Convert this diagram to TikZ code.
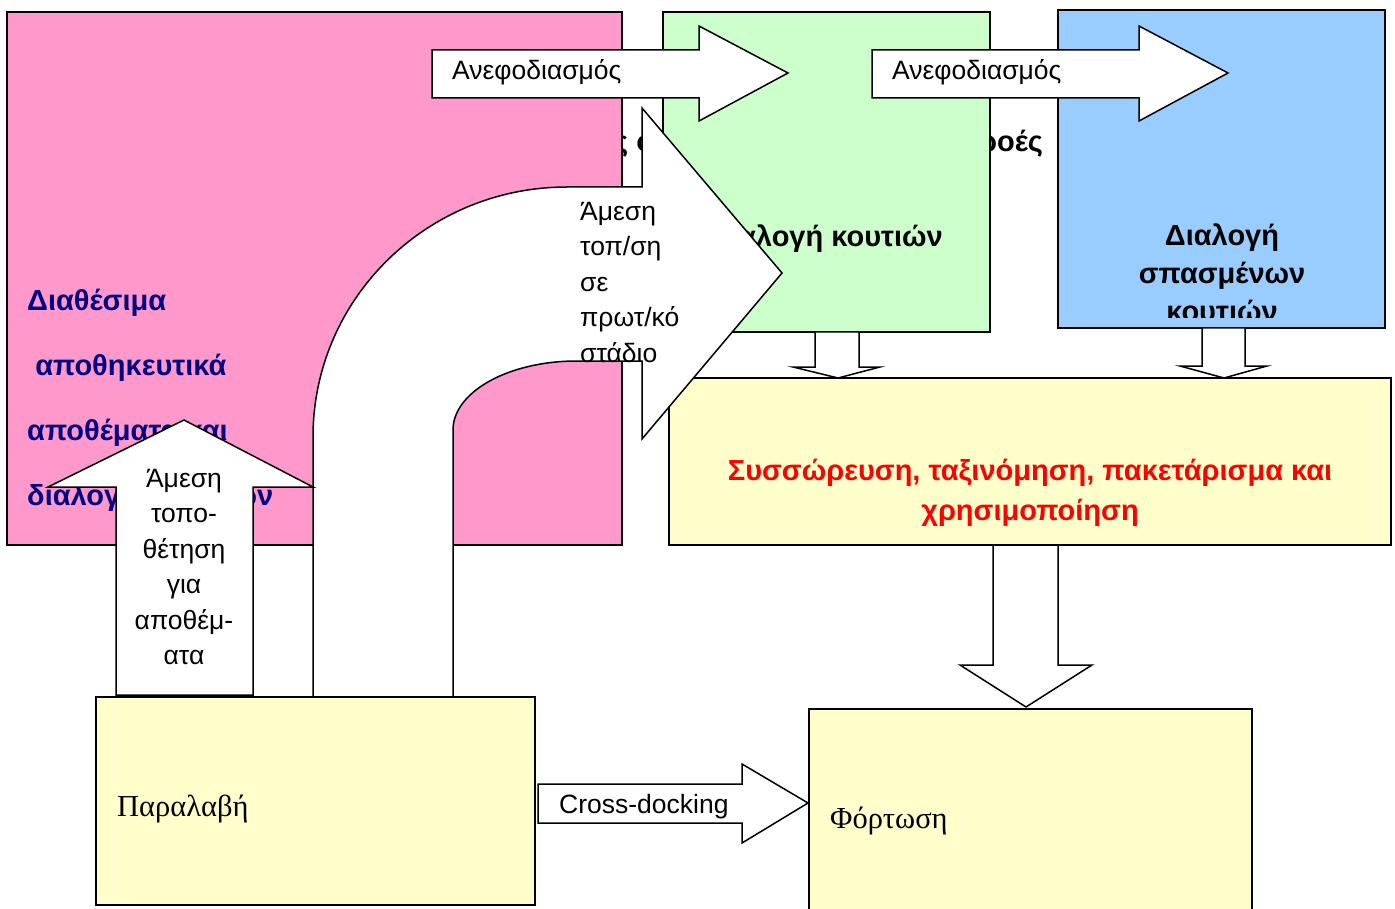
\documentclass[tikz,border=0pt]{standalone}
\usepackage{fontspec}
\setmainfont{Liberation Sans}
\newfontfamily\timesgr{Liberation Serif}

\definecolor{stockpink}{HTML}{FF99CC}
\definecolor{sortgreen}{HTML}{CCFFCC}
\definecolor{brokenblue}{HTML}{99CCFF}
\definecolor{paleyellow}{HTML}{FFFFCC}
\definecolor{navytext}{HTML}{000080}

\begin{document}
\begin{tikzpicture}[x=1pt,y=-1pt,
    box/.style={draw,line width=1.5pt,anchor=north west,inner sep=0pt,outer sep=0pt},
    blockarrow/.style={draw,fill=white,line width=1.5pt,line join=miter},
    plain/.style={font=\fontsize{26.5}{35.4}\selectfont,inner sep=0pt},
    heavy/.style={font=\fontsize{29}{38}\selectfont\bfseries,inner sep=0pt}]
  \useasboundingbox (0,0) rectangle (1395,909);
  % Text lying behind the boxes
  \node[heavy,anchor=base west] (hidA) at (613,152) {ς ο};
  \node[heavy,anchor=base west] (hidB) at (979,152) {ροές};
  % Upper row of boxes
  \node[box,fill=stockpink,minimum width=615pt,minimum height=533pt] (stock) at (7,12) {};
  \node[heavy,anchor=north west,align=left,text=navytext,
        font=\fontsize{29}{65}\selectfont\bfseries] (stocktxt) at (27,289)
        {Διαθέσιμα\\ ~αποθηκευτικά\\αποθέματα και\\διαλογή κιβωτίων};
  \node[box,fill=sortgreen,minimum width=327pt,minimum height=320pt] (sort) at (663,12) {};
  \node[heavy,anchor=base] (sorttxt) at (826,247) {Διαλογή κουτιών};
  \node[box,fill=brokenblue,minimum width=327pt,minimum height=318pt] (broken) at (1058,10) {};
  \begin{scope}
    \clip (1058,10) rectangle (1385,318);
    \node[heavy,anchor=north,align=center] (brokentxt) at (1222,224)
          {Διαλογή\\σπασμένων\\κουτιών};
  \end{scope}
  \node[box,fill=paleyellow,minimum width=722pt,minimum height=167pt] (consol) at (669,378) {};
  \node[heavy,anchor=north,align=center,text=red,
        font=\fontsize{29}{40}\selectfont\bfseries] (consoltxt) at (1030,459)
        {Συσσώρευση, ταξινόμηση, πακετάρισμα και\\χρησιμοποίηση};
  % Small arrows into the yellow box
  \draw[blockarrow] (815,332) -- (815,367) -- (793,367) -- (838,378) -- (880,367)
        -- (859,367) -- (859,332) -- cycle;
  \draw[blockarrow] (1202,328) -- (1202,366) -- (1180,366) -- (1224,378) -- (1267,366)
        -- (1245,366) -- (1245,328) -- cycle;
  % Replenishment arrows
  \draw[blockarrow] (432,50) -- (699,50) -- (699,26) -- (788,73) -- (699,121)
        -- (699,98) -- (432,98) -- cycle;
  \node[plain,anchor=base west] (repA) at (452,80) {Ανεφοδιασμός};
  \draw[blockarrow] (872,50) -- (1139,50) -- (1139,26) -- (1228,73) -- (1139,121)
        -- (1139,98) -- (872,98) -- cycle;
  \node[plain,anchor=base west] (repB) at (892,80) {Ανεφοδιασμός};
  % Down to loading
  \draw[blockarrow] (993,545) -- (993,665) -- (960,665) -- (1026,707) -- (1092,665)
        -- (1058,665) -- (1058,545) -- cycle;
  % Bent arrow from receiving
  \draw[blockarrow] (313,697) -- (313,437)
        arc[start angle=180,end angle=90,x radius=254pt,y radius=250pt]
        -- (642,187) -- (642,108) -- (782,273) -- (642,439) -- (642,361) -- (577,361)
        arc[start angle=90,end angle=180,x radius=124pt,y radius=69pt]
        -- (453,697) -- cycle;
  \node[plain,anchor=north west,align=left] (bendtxt) at (580,202)
        {Άμεση\\τοπ/ση\\σε\\πρωτ/κό\\στάδιο};
  % Up arrow into stock
  \draw[blockarrow] (116,695) -- (116,487) -- (48,487) -- (184,420) -- (313,487)
        -- (253,487) -- (253,695) -- cycle;
  \node[plain,anchor=north,align=center] (uptxt) at (184,469)
        {Άμεση\\τοπο-\\θέτηση\\για\\αποθέμ-\\ατα};
  % Lower row
  \node[box,fill=paleyellow,minimum width=439pt,minimum height=208pt] (receive) at (96,697) {};
  \node[anchor=base west,inner sep=0pt,font=\timesgr\fontsize{30.5}{36}\selectfont]
        (receivetxt) at (117,816) {Παραλαβή};
  \node[box,fill=paleyellow,minimum width=443pt,minimum height=210pt] (load) at (809,709) {};
  \node[anchor=base west,inner sep=0pt,font=\timesgr\fontsize{30.5}{36}\selectfont]
        (loadtxt) at (830,828) {Φόρτωση};
  \draw[blockarrow] (538,784) -- (742,784) -- (742,764) -- (808,803) -- (742,843)
        -- (742,823) -- (538,823) -- cycle;
  \node[plain,anchor=base west] (crosstxt) at (559,813) {Cross-docking};
\end{tikzpicture}
\end{document}
